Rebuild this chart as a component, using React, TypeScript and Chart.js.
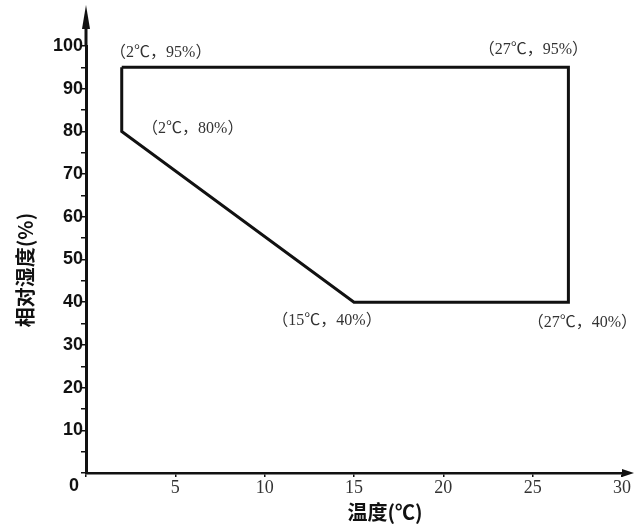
import React, { useEffect, useRef } from 'react';
import { Chart, registerables } from 'chart.js';

Chart.register(...registerables);

// Polygon vertices (temperature °C, relative humidity %)
const tempC = [2, 27, 27, 15, 2, 2];
const humidity = [95, 95, 40, 40, 80, 95];

// Axis ticks
const xTickValues = [5, 10, 15, 20, 25, 30];
const yTickValues = [10, 20, 30, 40, 50, 60, 70, 80, 90, 100];

// Titles
const xTitle = '温度(℃)';
const yTitle = '相对湿度(%)';

// Vertex annotation placement (pixel offsets from vertex, per vertex index 0..4)
const labelOffsets: [number, number][] = [
  [39, -15],
  [-35, -18],
  [14, 21],
  [-27, 19],
  [71, -3],
];

const overlay = {
  id: 'overlay',
  afterDraw(chart: any) {
    const { ctx, chartArea, scales } = chart;
    const xs = scales.x;
    const ys = scales.y;
    const x0 = chartArea.left;
    const yb = chartArea.bottom;
    ctx.save();
    ctx.fillStyle = '#111';
    ctx.strokeStyle = '#111';
    // y axis arrow
    ctx.lineWidth = 3;
    ctx.beginPath();
    ctx.moveTo(x0, chartArea.top);
    ctx.lineTo(x0, 20);
    ctx.stroke();
    ctx.beginPath();
    ctx.moveTo(x0, 5);
    ctx.lineTo(x0 - 4, 29);
    ctx.lineTo(x0 + 4, 29);
    ctx.closePath();
    ctx.fill();
    // x axis arrow
    ctx.lineWidth = 2.5;
    ctx.beginPath();
    ctx.moveTo(chartArea.right, yb);
    ctx.lineTo(626, yb);
    ctx.stroke();
    ctx.beginPath();
    ctx.moveTo(634, yb);
    ctx.lineTo(622, yb - 4);
    ctx.lineTo(622, yb + 4);
    ctx.closePath();
    ctx.fill();

    // origin label
    ctx.font = "bold 18px 'Liberation Sans'";
    ctx.textAlign = 'center';
    ctx.textBaseline = 'middle';
    ctx.fillText('0', x0 - 12, yb + 13);

    // axis titles
    ctx.font = "bold 20px 'Noto Sans CJK SC'";
    ctx.fillText(xTitle, 385, 512);
    ctx.save();
    ctx.translate(25, 270);
    ctx.rotate(-Math.PI / 2);
    ctx.fillText(yTitle, 0, 0);
    ctx.restore();

    // vertex annotations
    ctx.font = "16px 'Liberation Serif', 'Noto Sans CJK SC'";
    ctx.fillStyle = '#333';
    for (let i = 0; i < labelOffsets.length; i++) {
      const px = xs.getPixelForValue(tempC[i]);
      const py = ys.getPixelForValue(humidity[i]);
      const [dx, dy] = labelOffsets[i];
      ctx.fillText(`（${tempC[i]}℃，${humidity[i]}%）`, px + dx, py + dy);
    }
    ctx.restore();
  },
};

export default function App() {
  const ref = useRef<HTMLCanvasElement>(null);
  useEffect(() => {
    document.body.style.margin = '0';
    const canvas = ref.current!;
    const chart = new Chart(canvas, {
      type: 'scatter',
      data: {
        datasets: [
          {
            data: tempC.map((t, i) => ({ x: t, y: humidity[i] })),
            showLine: true,
            borderColor: '#111',
            borderWidth: 3,
            pointRadius: 0,
            borderJoinStyle: 'miter',
            fill: false,
          } as any,
        ],
      },
      options: {
        animation: false,
        responsive: false,
        devicePixelRatio: 1,
        layout: { padding: { left: 0, right: 13, top: 46, bottom: 0 } },
        plugins: { legend: { display: false }, tooltip: { enabled: false } },
        scales: {
          x: {
            type: 'linear',
            min: 0,
            max: 30,
            afterFit: (s: any) => {
              s.height = 55;
            },
            afterBuildTicks: (s: any) => {
              s.ticks = [0, ...xTickValues].map((v) => ({ value: v }));
            },
            ticks: {
              autoSkip: false,
              maxRotation: 0,
              padding: 0,
              color: '#333',
              font: { family: "'Liberation Serif'", size: 18 },
              callback: (v: any) => (v === 0 ? '' : String(v)),
            },
            grid: { drawOnChartArea: false, tickLength: 4, color: '#111', lineWidth: 1.5 },
            border: { color: '#111', width: 2.5 },
          },
          y: {
            type: 'linear',
            min: 0,
            max: 100,
            afterFit: (s: any) => {
              s.width = 86;
            },
            afterBuildTicks: (s: any) => {
              const vals: number[] = [];
              for (let v = 0; v <= 100; v += 5) vals.push(v);
              s.ticks = vals.map((v) => ({ value: v }));
            },
            ticks: {
              autoSkip: false,
              padding: -2,
              color: '#111',
              font: { family: "'Liberation Sans'", size: 18, weight: 'bold' },
              callback: (v: any) => (yTickValues.includes(v) ? String(v) : ''),
            },
            grid: { drawOnChartArea: false, tickLength: 5, color: '#111', lineWidth: 1.5 },
            border: { color: '#111', width: 3 },
          },
        },
      },
      plugins: [overlay],
    });
    return () => chart.destroy();
  }, []);
  return (
    <div style={{ width: 635, height: 528, background: '#fff' }}>
      <canvas ref={ref} width={635} height={528} style={{ display: 'block' }} />
    </div>
  );
}
